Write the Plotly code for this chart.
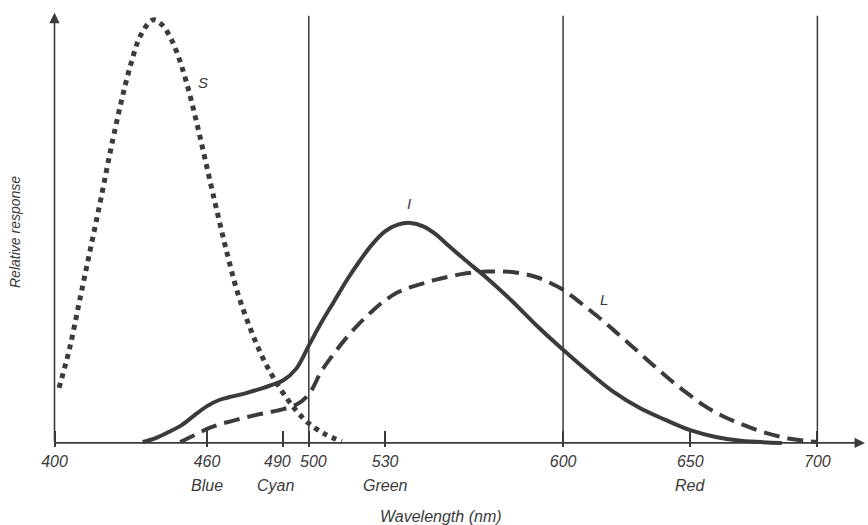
import plotly.graph_objects as go

# ---- data ----
S_wl = [401.8, 406, 410, 414, 418, 422, 426, 430, 434, 438.7, 442, 445, 448, 452, 456,
        460, 464, 468, 472, 477, 482, 487, 492, 496, 500, 506, 513]
S_val = [0.13, 0.225, 0.34, 0.455, 0.57, 0.69, 0.80, 0.895, 0.965, 1.0, 0.99, 0.965, 0.925, 0.85, 0.755,
         0.65, 0.545, 0.445, 0.355, 0.27, 0.20, 0.145, 0.10, 0.07, 0.046, 0.022, 0.003]

I_wl = [434.7, 440, 445, 450, 455, 460, 465, 470, 475, 480, 485, 490, 495, 500, 505, 510,
        515, 520, 525, 530, 535, 540, 545, 550, 555, 560, 565, 570, 580, 590, 600, 610,
        620, 630, 640, 650, 660, 670, 686]
I_val = [0.002, 0.012, 0.026, 0.042, 0.065, 0.087, 0.102, 0.110, 0.117, 0.126, 0.136, 0.148,
         0.175, 0.23, 0.285, 0.335, 0.385, 0.43, 0.47, 0.50, 0.516, 0.52, 0.512, 0.493, 0.466,
         0.44, 0.415, 0.39, 0.335, 0.275, 0.22, 0.168, 0.12, 0.083, 0.055, 0.03, 0.014, 0.005, 0.0]

L_wl = [449.4, 455, 460, 465, 470, 475, 480, 485, 490, 495, 500, 505, 510, 515, 520, 525,
        530, 535, 540, 545, 550, 555, 560, 565, 570, 575, 580, 585, 590, 595, 600, 605, 610,
        615, 620, 625, 630, 635, 640, 645, 650, 655, 660, 665, 670, 675, 680, 685, 690, 695, 700]
L_val = [0.002, 0.018, 0.033, 0.044, 0.052, 0.060, 0.067, 0.073, 0.080, 0.090, 0.115, 0.17,
         0.212, 0.25, 0.283, 0.312, 0.337, 0.356, 0.368, 0.377, 0.386, 0.393, 0.399, 0.403,
         0.405, 0.405, 0.404, 0.399, 0.391, 0.378, 0.362, 0.34, 0.316, 0.292, 0.266, 0.24,
         0.213, 0.186, 0.16, 0.135, 0.112, 0.09, 0.072, 0.057, 0.045, 0.033, 0.023, 0.015,
         0.009, 0.005, 0.002]

tick_vals = [400, 460, 490, 500, 530, 600, 650, 700]
tick_text = ["400", "460", "", "", "530", "600", "650", "700"]
# the two crowded labels are set a little apart, as in the reference
close_labels = ["490", "500"]
close_label_wl = [487.5, 502]
color_names = ["Blue", "Cyan", "Green", "Red"]
color_wl = [460, 487, 530, 650]
guide_wl = [500, 600, 700]

curve_labels = ["S", "I", "L"]
curve_label_pos = [(458.4, 0.851), (539.4, 0.565), (616.1, 0.338)]

INK = "#3b3b3b"
FONT = "Liberation Sans, Arial, sans-serif"

fig = go.Figure()

fig.add_trace(go.Scatter(x=S_wl, y=S_val, mode="lines", line_shape="spline",
                         line=dict(color=INK, width=5, dash="5px,5px"), name="S"))
fig.add_trace(go.Scatter(x=I_wl, y=I_val, mode="lines", line_shape="spline",
                         line=dict(color=INK, width=4), name="I"))
fig.add_trace(go.Scatter(x=L_wl, y=L_val, mode="lines", line_shape="spline",
                         line=dict(color=INK, width=4, dash="16px,8px"), name="L"))

# vertical guide lines
for w in guide_wl:
    fig.add_shape(type="line", x0=w, x1=w, y0=0, y1=1.01, xref="x", yref="y",
                  line=dict(color=INK, width=1.5))

# axes with arrows
fig.add_annotation(x=718.7, y=0, ax=400, ay=0, xref="x", yref="y", axref="x", ayref="y",
                   showarrow=True, arrowhead=2, arrowsize=1.3, arrowwidth=1.6,
                   arrowcolor=INK, text="")
fig.add_annotation(x=400, y=1.0166, ax=400, ay=0, xref="x", yref="y", axref="x", ayref="y",
                   showarrow=True, arrowhead=2, arrowsize=1.3, arrowwidth=1.6,
                   arrowcolor=INK, text="")

# curve labels
for t, (xw, yv) in zip(curve_labels, curve_label_pos):
    fig.add_annotation(x=xw, y=yv, text=t, showarrow=False,
                       font=dict(family=FONT, size=15, color=INK, style="italic"))

# crowded tick labels
for t, w in zip(close_labels, close_label_wl):
    fig.add_annotation(x=w, y=-0.0317, xref="x", yref="paper", text=t, showarrow=False,
                       xanchor="center", yanchor="middle", borderpad=0,
                       font=dict(family=FONT, size=16, color=INK, style="italic"))

# colour names under tick labels
for nm, w in zip(color_names, color_wl):
    fig.add_annotation(x=w, y=-0.086, xref="x", yref="paper", text=nm, showarrow=False,
                       xanchor="center", yanchor="middle",
                       font=dict(family=FONT, size=16, color=INK, style="italic"))

# axis titles
fig.add_annotation(x=552, y=-0.158, xref="x", yref="paper", text="Wavelength (nm)",
                   showarrow=False, xanchor="center", yanchor="middle",
                   font=dict(family=FONT, size=16, color=INK, style="italic"))
fig.add_annotation(x=-25 / 828, y=0.5 + (0.5 * 442 - (232 - 5)) / 442, xref="paper", yref="paper",
                   text="Relative response", showarrow=False, textangle=-90,
                   xanchor="center", yanchor="middle",
                   font=dict(family=FONT, size=14, color=INK, style="italic"))

fig.update_layout(
    width=868, height=525,
    margin=dict(l=40, r=0, t=5, b=78),
    paper_bgcolor="white", plot_bgcolor="white",
    showlegend=False,
    xaxis=dict(range=[394.3, 719.9], tickvals=tick_vals, ticktext=tick_text,
               ticks="inside", ticklen=16, tickwidth=1.5, tickcolor=INK, tickangle=0,
               showgrid=False, zeroline=False, showline=False,
               tickfont=dict(family=FONT, size=16, color=INK, style="italic"),
               ticklabelstandoff=3),
    yaxis=dict(range=[-0.0097, 1.0352], showticklabels=False, ticks="",
               showgrid=False, zeroline=False, showline=False),
)

fig.write_html("out.html")
